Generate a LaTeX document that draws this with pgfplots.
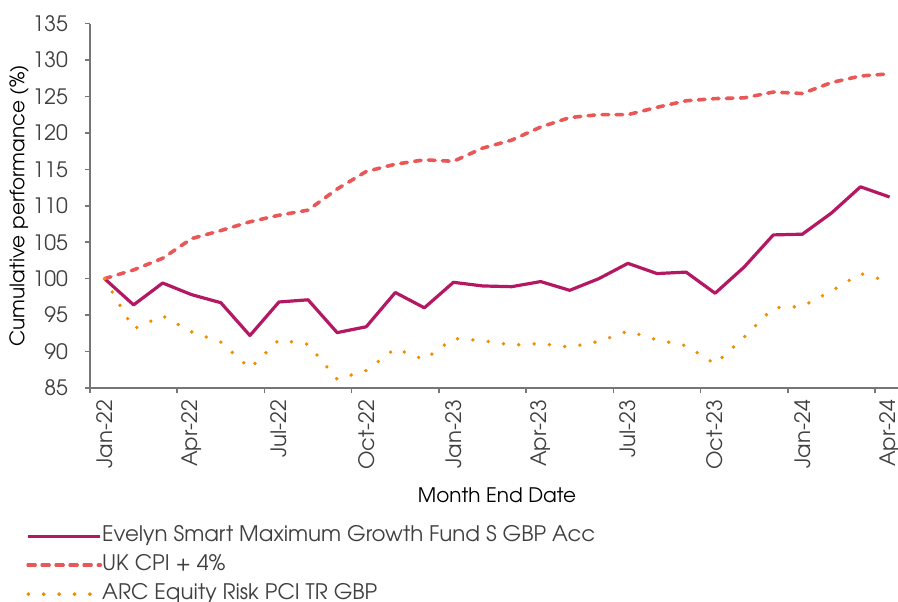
\documentclass[border=0pt]{standalone}
\usepackage{fontspec}
\setmainfont{TeX Gyre Adventor}
\usepackage{pgfplots}
\usepackage{pgfplotstable}
\pgfplotsset{compat=1.18}
\definecolor{fund}{RGB}{181,24,99}
\definecolor{cpi}{RGB}{232,88,88}
\definecolor{arc}{RGB}{242,140,0}
\definecolor{txt}{RGB}{64,64,64}
\definecolor{axc}{RGB}{118,118,118}

\pgfplotstableread{
i fund cpi arc
0 100.0 100.0 100.0
1 96.4 101.2 93.1
2 99.4 102.8 94.9
3 97.8 105.5 92.7
4 96.7 106.6 91.3
5 92.2 107.8 87.7
6 96.8 108.7 91.6
7 97.1 109.4 91.0
8 92.6 112.3 86.2
9 93.4 114.7 87.4
10 98.1 115.7 90.4
11 96.0 116.3 88.9
12 99.5 116.1 91.8
13 99.0 117.9 91.5
14 98.9 119.0 90.9
15 99.6 120.8 91.1
16 98.4 122.1 90.6
17 100.0 122.5 91.4
18 102.1 122.5 92.8
19 100.7 123.5 91.6
20 100.9 124.4 90.8
21 98.0 124.7 88.3
22 101.6 124.8 92.0
23 106.0 125.6 96.0
24 106.1 125.4 96.2
25 109.0 126.9 98.3
26 112.6 127.8 100.7
27 111.2 128.1 99.6
}\data

\begin{document}
\begin{tikzpicture}
\path[use as bounding box] (0,0) rectangle (449pt,300.5pt);
\clip (0,0) rectangle (449pt,300.5pt);
\begin{axis}[
  at={(45pt,106.5pt)}, anchor=south west,
  scale only axis, width=404pt, height=182.25pt,
  xmin=-0.5, xmax=27.29, ymin=85, ymax=135,
  axis lines=left,
  axis line style={-, draw=axc, line width=0.75pt},
  tick align=outside, major tick length=2.5pt,
  tick style={draw=axc, line width=0.75pt},
  xtick={-0.5,2.5,5.5,8.5,11.5,14.5,17.5,20.5,23.5,26.5},
  xticklabels={Jan-22,Apr-22,Jul-22,Oct-22,Jan-23,Apr-23,Jul-23,Oct-23,Jan-24,Apr-24},
  x tick label style={xshift=7.27pt, rotate=90, anchor=east},
  y tick label style={xshift=-5pt},
  ytick={85,90,...,135},
  /pgf/number format/assume math mode=true,
  tick label style={font=\fontsize{10.6}{12}\selectfont, text=txt},
  label style={font=\fontsize{10.6}{12}\selectfont, text=txt},
  xlabel={Month End Date},
  ylabel={Cumulative performance (\%)},
  every axis x label/.style={at={(rel axis cs:0.5,0)}, xshift=1.5pt, yshift=-53.5pt, anchor=center},
  every axis y label/.style={at={(rel axis cs:0,0.5)}, xshift=-35.5pt, rotate=90, anchor=center},
  legend cell align=left,
  legend image code/.code={\draw[#1] (0pt,0pt) -- (34pt,0pt); \path (0pt,0pt) -- (36pt,0pt);},
  legend style={draw=none, fill=none, at={(-0.0792,-0.486)}, anchor=west,
    inner sep=0pt, font=\fontsize{10.7}{12}\selectfont, text=txt,
    nodes={inner sep=0pt, text height=10pt, text depth=4.5pt},
    /tikz/every even column/.append style={column sep=4pt}},
]
\addplot[fund, line width=1.6pt, line join=round] table[x=i, y=fund]{\data};
\addlegendentry{Evelyn Smart Maximum Growth Fund S GBP Acc}
\addplot[cpi, line width=1.8pt, dash pattern=on 3.3pt off 3.7pt, line cap=round, line join=round] table[x=i, y=cpi]{\data};
\addlegendentry{UK CPI + 4\%}
\addplot[arc, line width=1.9pt, dash pattern=on 0pt off 7.7pt, line cap=round] table[x=i, y=arc]{\data};
\addlegendentry{ARC Equity Risk PCI TR GBP}
\end{axis}
\end{tikzpicture}
\end{document}
